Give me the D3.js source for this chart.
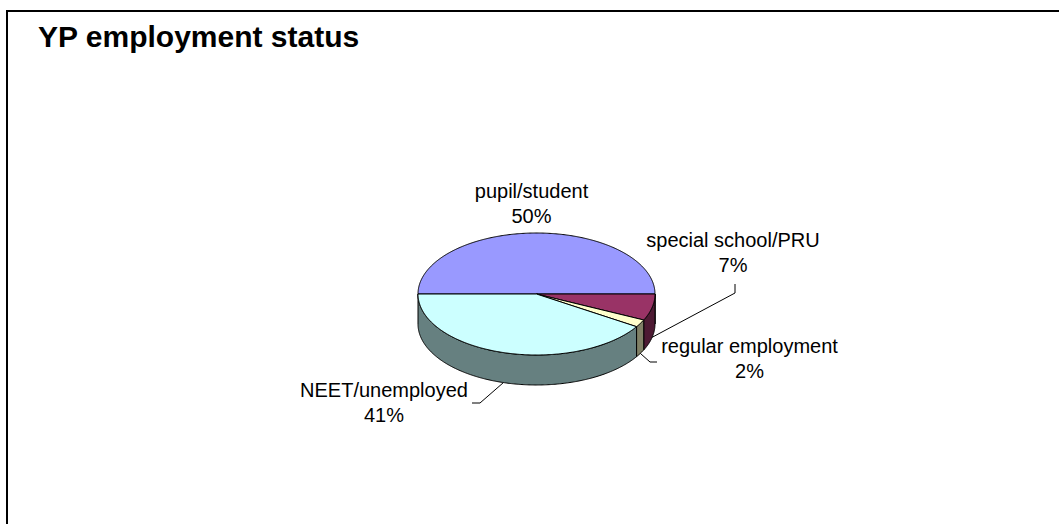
<!DOCTYPE html>
<html>
<head>
<meta charset="utf-8">
<script src="https://cdn.jsdelivr.net/npm/d3@7"></script>
<style>
  html, body { margin: 0; padding: 0; background: #fff; }
  svg { display: block; }
  text { font-family: "Liberation Sans", Arial, sans-serif; fill: #000; }
</style>
</head>
<body>
<svg id="chart" width="1059" height="524"></svg>
<script>
// Employment status of young people (percent)
const categories = ["pupil/student", "special school/PRU", "regular employment", "NEET/unemployed"];
const values = [50, 7, 2, 41];
const topColors = ["#9999FF", "#993366", "#FFFFCC", "#CCFFFF"];
const title = "YP employment status";

const W = 1059, H = 524;
const svg = d3.select("#chart");

// chart frame (runs off the right and bottom edges)
svg.append("rect")
  .attr("x", 7).attr("y", 11)
  .attr("width", W + 20).attr("height", H + 20)
  .attr("fill", "#fff").attr("stroke", "#000").attr("stroke-width", 2);

svg.append("text")
  .attr("x", 38).attr("y", 47)
  .attr("font-size", 30).attr("font-weight", "bold")
  .text(title);

// 3-D pie geometry
const cx = 536.5, cy = 294, rx = 118.5, ry = 61, depth = 30;

const pie = d3.pie().sort(null)
  .startAngle(-Math.PI / 2)
  .endAngle(3 * Math.PI / 2);
const arcs = pie(values);

// angle measured clockwise from 12 o'clock
const px = a => cx + rx * Math.sin(a);
const py = (a, dz = 0) => cy - ry * Math.cos(a) + dz;

function ellipsePts(a0, a1, dz) {
  const n = Math.max(2, Math.ceil(Math.abs(a1 - a0) / 0.01));
  const pts = [];
  for (let i = 0; i <= n; i++) {
    const a = a0 + (a1 - a0) * i / n;
    pts.push([px(a), py(a, dz)]);
  }
  return pts;
}

const line = d3.line();
const shade = c => { const r = d3.rgb(c); return d3.rgb(r.r * 0.5, r.g * 0.5, r.b * 0.5).formatHex(); };

// side walls: only the front half of the rim is visible
const sides = svg.append("g");
arcs.forEach((d, i) => {
  const s = Math.max(d.startAngle, Math.PI / 2);
  const e = Math.min(d.endAngle, 3 * Math.PI / 2);
  if (e <= s) return;
  const pts = ellipsePts(s, e, 0).concat(ellipsePts(e, s, depth));
  sides.append("path")
    .attr("d", line(pts) + "Z")
    .attr("fill", shade(topColors[i]))
    .attr("stroke", "#000").attr("stroke-width", 1)
    .attr("stroke-linejoin", "round");
});

// top faces
const tops = svg.append("g");
arcs.forEach((d, i) => {
  const pts = [[cx, cy]].concat(ellipsePts(d.startAngle, d.endAngle, 0));
  tops.append("path")
    .attr("d", line(pts) + "Z")
    .attr("fill", topColors[i])
    .attr("stroke", "#000").attr("stroke-width", 1)
    .attr("stroke-linejoin", "round");
});

// labels: name and rounded percentage
const total = d3.sum(values);
const labelPos = [
  { x: 531.5, y: 198 },
  { x: 733, y: 247 },
  { x: 749.5, y: 353 },
  { x: 384, y: 397 }
];
// leader line elbows (null where the label sits directly over its slice)
const leaders = [
  null,
  [[735, 293], [735, 284]],
  [[650, 362], [657, 362]],
  [[480, 403], [472, 403]]
];

const lbl = svg.append("g");
arcs.forEach((d, i) => {
  const p = labelPos[i];
  const t = lbl.append("text")
    .attr("text-anchor", "middle")
    .attr("font-size", 20);
  t.append("tspan").attr("x", p.x).attr("y", p.y).text(categories[i]);
  t.append("tspan").attr("x", p.x).attr("y", p.y + 24.5)
    .text(Math.round(d.value / total * 100) + "%");

  if (leaders[i]) {
    const mid = (d.startAngle + d.endAngle) / 2;
    const start = [px(mid), py(mid, depth)];
    lbl.append("path")
      .attr("d", line([start].concat(leaders[i])))
      .attr("fill", "none").attr("stroke", "#000").attr("stroke-width", 1);
  }
});
</script>
</body>
</html>
